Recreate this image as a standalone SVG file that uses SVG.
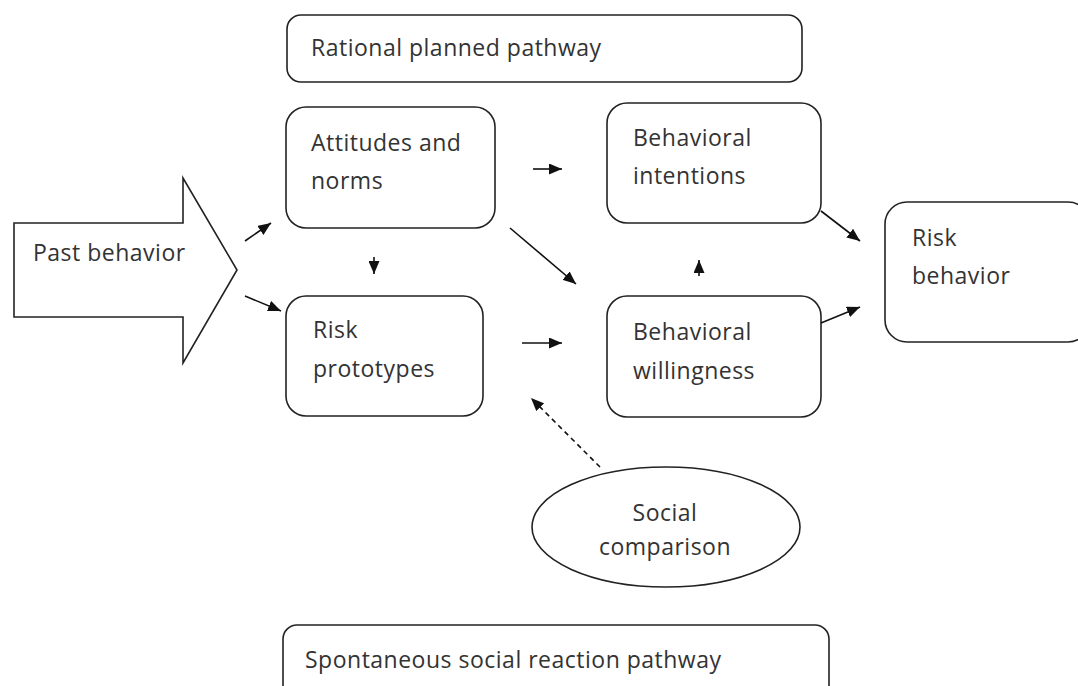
<svg xmlns="http://www.w3.org/2000/svg" width="1078" height="686" viewBox="0 0 1078 686">
<defs>
<marker id="ah" viewBox="0 0 13 11" refX="13" refY="5.5" markerWidth="13" markerHeight="11" markerUnits="userSpaceOnUse" orient="auto">
<path d="M0,0 L13,5.5 L0,11 Z" fill="#111"/>
</marker>
</defs>
<style>
.box{fill:#fff;stroke:#222;stroke-width:1.6}
.t{font-family:"Open Sans","Noto Sans",sans-serif;font-size:23px;letter-spacing:0.5px;fill:#333}
.c{stroke:#111;stroke-width:1.6;fill:none;marker-end:url(#ah)}
.d{stroke-dasharray:5,4}
</style>
<rect width="1078" height="686" fill="#fff"/>
<g id="rational">
<rect class="box" x="287" y="15" width="515" height="67" rx="14"/>
<text class="t" x="311" y="56">Rational planned pathway</text>
</g>
<g id="past">
<path class="box" d="M14,223 L183,223 L183,178 L237,270 L183,363 L183,317 L14,317 Z"/>
<text class="t" x="33" y="261">Past behavior</text>
</g>
<g id="attitudes">
<rect class="box" x="286" y="107" width="209" height="121" rx="20"/>
<text class="t" x="311" y="151">Attitudes and</text>
<text class="t" x="311" y="189">norms</text>
</g>
<g id="prototypes">
<rect class="box" x="286" y="296" width="197" height="120" rx="20"/>
<text class="t" x="313" y="338">Risk</text>
<text class="t" x="313" y="377">prototypes</text>
</g>
<g id="intentions">
<rect class="box" x="607" y="103" width="214" height="120" rx="20"/>
<text class="t" x="633" y="146">Behavioral</text>
<text class="t" x="633" y="184">intentions</text>
</g>
<g id="willingness">
<rect class="box" x="607" y="296" width="214" height="121" rx="20"/>
<text class="t" x="633" y="340">Behavioral</text>
<text class="t" x="633" y="379">willingness</text>
</g>
<g id="riskbehavior">
<rect class="box" x="885" y="202" width="205" height="140" rx="22"/>
<text class="t" x="912" y="246">Risk</text>
<text class="t" x="912" y="284">behavior</text>
</g>
<g id="social">
<ellipse class="box" cx="666" cy="527" rx="134" ry="60"/>
<text class="t" x="665" y="521" text-anchor="middle">Social</text>
<text class="t" x="665" y="555" text-anchor="middle">comparison</text>
</g>
<g id="spontaneous">
<rect class="box" x="283" y="625" width="546" height="80" rx="14"/>
<text class="t" x="305" y="668">Spontaneous social reaction pathway</text>
</g>
<g id="connectors">
<line class="c" x1="245" y1="241" x2="271" y2="223"/>
<line class="c" x1="245" y1="296" x2="281" y2="311"/>
<line class="c" x1="374" y1="257" x2="374" y2="274"/>
<line class="c" x1="533" y1="169" x2="562" y2="169"/>
<line class="c" x1="510" y1="228" x2="576" y2="284"/>
<line class="c" x1="522" y1="343" x2="562" y2="343"/>
<line class="c d" x1="600" y1="467" x2="531" y2="398"/>
<line class="c" x1="699" y1="276" x2="699" y2="260"/>
<line class="c" x1="821" y1="211" x2="860" y2="241"/>
<line class="c" x1="821" y1="323" x2="860" y2="307"/>
</g>
</svg>
